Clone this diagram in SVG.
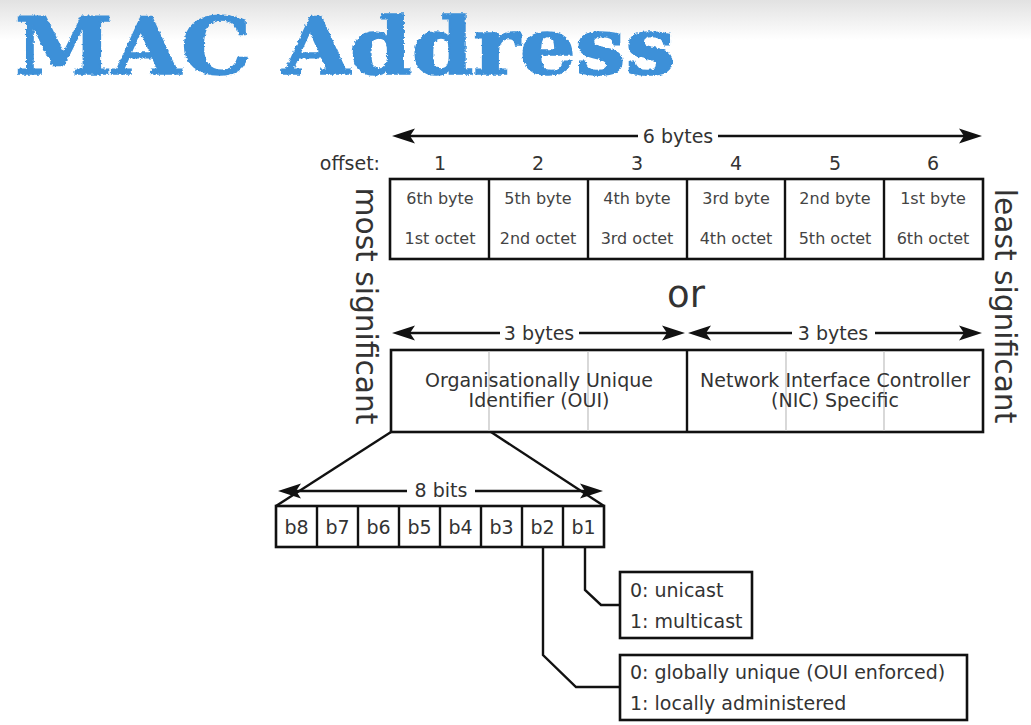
<svg xmlns="http://www.w3.org/2000/svg" width="1031" height="725" viewBox="0 0 1031 725">
  <defs>
    <linearGradient id="bg" x1="0" y1="0" x2="0" y2="1">
      <stop offset="0" stop-color="#e2e2e2"/>
      <stop offset="1" stop-color="#ffffff"/>
    </linearGradient>
    <filter id="rough" x="-5%" y="-20%" width="110%" height="140%">
      <feTurbulence type="fractalNoise" baseFrequency="0.35" numOctaves="2" seed="3" result="n"/>
      <feDisplacementMap in="SourceGraphic" in2="n" scale="3.5" xChannelSelector="R" yChannelSelector="G"/>
    </filter>
    <marker id="ah" markerUnits="userSpaceOnUse" markerWidth="1" markerHeight="1" orient="auto-start-reverse" overflow="visible" refX="0" refY="0">
      <path d="M18,0 L-5,-7.5 L0,0 L-5,7.5 Z" fill="#111"/>
    </marker>
    <style>
      text { font-family: "DejaVu Sans", "Liberation Sans", sans-serif; fill: #333; }
      .title { font-family: "DejaVu Serif", "Liberation Serif", serif; font-weight: bold; fill: #3d90d8; stroke: #3d90d8; stroke-width: 1.6; }
      .box { fill: #fff; stroke: #111; stroke-width: 2.6; }
      .div { stroke: #111; stroke-width: 2.4; }
      .gdiv { stroke: #c4c4c4; stroke-width: 1.3; }
      .ln { stroke: #111; stroke-width: 2.4; fill: none; }
      .arr { stroke: #111; stroke-width: 2.4; fill: none; }
      .s16 { font-size: 16px; fill: #444; }
      .s19 { font-size: 19px; }
      .mid { text-anchor: middle; }
    </style>
  </defs>

  <rect x="0" y="0" width="1031" height="725" fill="#fff"/>
  <rect x="0" y="0" width="1031" height="40" fill="url(#bg)"/>

  <g id="title">
    <text class="title" x="15" y="74" font-size="78" textLength="660" lengthAdjust="spacingAndGlyphs" filter="url(#rough)">MAC Address</text>
  </g>

  <g id="connectors">
    <!-- 6 bytes -->
    <line class="arr" x1="410" y1="136" x2="638" y2="136" marker-start="url(#ah)"/>
    <line class="arr" x1="718" y1="136" x2="964" y2="136" marker-end="url(#ah)"/>
    <!-- 3 bytes left -->
    <line class="arr" x1="410" y1="333" x2="500" y2="333" marker-start="url(#ah)"/>
    <line class="arr" x1="579" y1="333" x2="667" y2="333" marker-end="url(#ah)"/>
    <!-- 3 bytes right -->
    <line class="arr" x1="706" y1="333" x2="792" y2="333" marker-start="url(#ah)"/>
    <line class="arr" x1="875" y1="333" x2="964" y2="333" marker-end="url(#ah)"/>
    <!-- 8 bits -->
    <line class="arr" x1="296" y1="491" x2="407" y2="491" marker-start="url(#ah)"/>
    <line class="arr" x1="475" y1="491" x2="585" y2="491" marker-end="url(#ah)"/>
    <!-- zoom lines -->
    <line class="ln" x1="391" y1="432" x2="276" y2="506"/>
    <line class="ln" x1="491" y1="432" x2="604" y2="506"/>
    <!-- b1 / b2 leaders -->
    <polyline class="ln" points="585,547 585,590 601,605 620,605"/>
    <polyline class="ln" points="543,547 543,655 576,687 620,687"/>
  </g>

  <g id="offsets">
    <text class="s19" x="380" y="170" text-anchor="end">offset:</text>
    <text class="s19 mid" x="440" y="170">1</text>
    <text class="s19 mid" x="538" y="170">2</text>
    <text class="s19 mid" x="637" y="170">3</text>
    <text class="s19 mid" x="736" y="170">4</text>
    <text class="s19 mid" x="835" y="170">5</text>
    <text class="s19 mid" x="933" y="170">6</text>
  </g>
  <g id="arrow-labels">
    <text class="s19 mid" x="678" y="143">6 bytes</text>
    <text class="s19 mid" x="539" y="340">3 bytes</text>
    <text class="s19 mid" x="833" y="340">3 bytes</text>
    <text class="s19 mid" x="441" y="497">8 bits</text>
    <text class="mid" x="686" y="307" font-size="37">or</text>
  </g>

  <g id="bytes-row">
    <rect class="box" x="390" y="179" width="593" height="80"/>
    <line class="div" x1="489" y1="179" x2="489" y2="259"/>
    <line class="div" x1="588" y1="179" x2="588" y2="259"/>
    <line class="div" x1="687" y1="179" x2="687" y2="259"/>
    <line class="div" x1="785" y1="179" x2="785" y2="259"/>
    <line class="div" x1="884" y1="179" x2="884" y2="259"/>
    <text class="s16 mid" x="440" y="204">6th byte</text>
    <text class="s16 mid" x="538" y="204">5th byte</text>
    <text class="s16 mid" x="637" y="204">4th byte</text>
    <text class="s16 mid" x="736" y="204">3rd byte</text>
    <text class="s16 mid" x="835" y="204">2nd byte</text>
    <text class="s16 mid" x="933" y="204">1st byte</text>
    <text class="s16 mid" x="440" y="244">1st octet</text>
    <text class="s16 mid" x="538" y="244">2nd octet</text>
    <text class="s16 mid" x="637" y="244">3rd octet</text>
    <text class="s16 mid" x="736" y="244">4th octet</text>
    <text class="s16 mid" x="835" y="244">5th octet</text>
    <text class="s16 mid" x="933" y="244">6th octet</text>
  </g>

  <g id="oui-nic">
    <rect class="box" x="391" y="350" width="592" height="82"/>
    <line class="gdiv" x1="489" y1="351" x2="489" y2="431"/>
    <line class="gdiv" x1="588" y1="351" x2="588" y2="431"/>
    <line class="gdiv" x1="786" y1="351" x2="786" y2="431"/>
    <line class="gdiv" x1="884" y1="351" x2="884" y2="431"/>
    <line class="div" x1="687" y1="350" x2="687" y2="432"/>
    <text class="s19 mid" x="539" y="387">Organisationally Unique</text>
    <text class="s19 mid" x="539" y="407">Identifier (OUI)</text>
    <text class="s19 mid" x="835" y="387">Network Interface Controller</text>
    <text class="s19 mid" x="835" y="407">(NIC) Specific</text>
  </g>

  <g id="side-labels">
    <text class="mid" transform="translate(356,306) rotate(90)" font-size="29.7">most significant</text>
    <text class="mid" transform="translate(995,306) rotate(90)" font-size="29.7">least significant</text>
  </g>

  <g id="bits">
    <rect class="box" x="276" y="506" width="328" height="41"/>
    <line class="div" x1="317" y1="506" x2="317" y2="547"/>
    <line class="div" x1="358" y1="506" x2="358" y2="547"/>
    <line class="div" x1="399" y1="506" x2="399" y2="547"/>
    <line class="div" x1="440" y1="506" x2="440" y2="547"/>
    <line class="div" x1="481" y1="506" x2="481" y2="547"/>
    <line class="div" x1="522" y1="506" x2="522" y2="547"/>
    <line class="div" x1="563" y1="506" x2="563" y2="547"/>
    <text class="s19 mid" x="296.5" y="534">b8</text>
    <text class="s19 mid" x="337.5" y="534">b7</text>
    <text class="s19 mid" x="378.5" y="534">b6</text>
    <text class="s19 mid" x="419.5" y="534">b5</text>
    <text class="s19 mid" x="460.5" y="534">b4</text>
    <text class="s19 mid" x="501.5" y="534">b3</text>
    <text class="s19 mid" x="542.5" y="534">b2</text>
    <text class="s19 mid" x="583.5" y="534">b1</text>
  </g>

  <g id="cast-box">
    <rect class="box" x="620" y="572" width="132" height="66"/>
    <text class="s19" x="630" y="597">0: unicast</text>
    <text class="s19" x="630" y="628">1: multicast</text>
  </g>

  <g id="admin-box">
    <rect class="box" x="620" y="655" width="347" height="65"/>
    <text class="s19" x="630" y="679">0: globally unique (OUI enforced)</text>
    <text class="s19" x="630" y="710">1: locally administered</text>
  </g>
</svg>
